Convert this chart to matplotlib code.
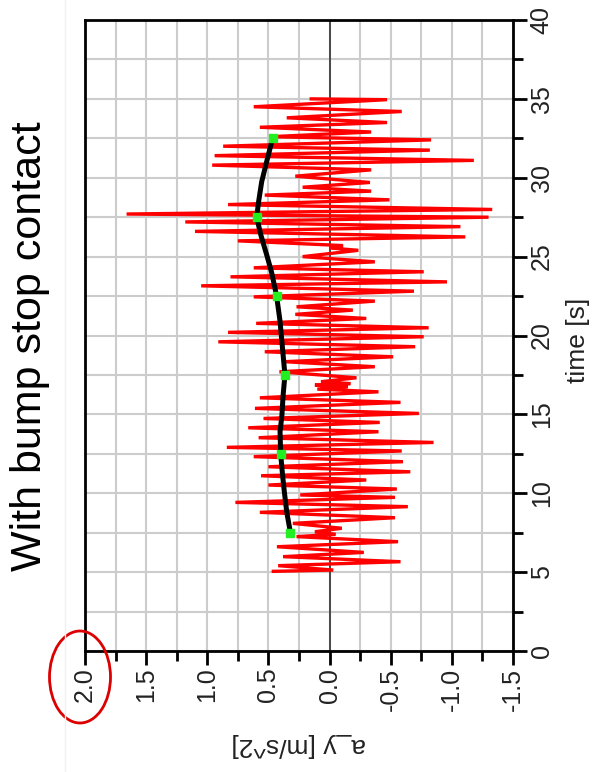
import matplotlib
matplotlib.use("Agg")
import matplotlib.pyplot as plt
from matplotlib.ticker import MultipleLocator, FormatStrFormatter
from matplotlib.patches import Ellipse
from matplotlib.lines import Line2D

plt.rcParams['font.family'] = ['Liberation Sans', 'DejaVu Sans']
plt.rcParams['axes.unicode_minus'] = False

# ---- data ----
sig_t = [5.05, 5.13, 5.41, 5.66, 5.98, 6.25, 6.61, 6.93, 7.25, 7.40, 7.56, 7.78,
         8.09, 8.45, 8.79, 9.15, 9.42, 9.74, 9.89, 10.27, 10.52, 10.84, 11.11,
         11.36, 11.68, 12.00, 12.32, 12.68, 12.91, 13.22, 13.52, 13.90, 14.15,
         14.49, 14.74, 15.06, 15.38, 15.76, 16.05, 16.43, 16.60, 16.75, 16.85,
         16.95, 17.07, 17.32, 17.70, 18.02, 18.34, 18.65, 18.97, 19.29, 19.60,
         19.92, 20.20, 20.49, 20.77, 21.08, 21.34, 21.61, 21.82, 22.18, 22.45,
         22.81, 23.15, 23.40, 23.72, 24.04, 24.29, 24.67, 25.00, 25.40, 25.55,
         25.70, 26.00, 26.25, 26.60, 26.90, 27.20, 27.50, 27.70, 27.99, 28.30,
         28.60, 28.90, 29.15, 29.40, 29.70, 30.10, 30.50, 30.80, 31.10, 31.40,
         31.75, 32.00, 32.40, 32.60, 32.90, 33.20, 33.50, 33.80, 34.20, 34.50,
         34.95, 35.00]
sig_a = [0.46, -0.03, 0.42, -0.58, 0.38, -0.28, 0.43, -0.56, 0.27, -0.05, 0.12, -0.10,
         0.30, -0.535, 0.57, -0.64, 0.77, -0.535, 0.24, -0.55, 0.50, -0.30, 0.56,
         -0.66, 0.50, -0.60, 0.62, -0.59, 0.84, -0.85, 0.58, -0.40, 0.665,
         -0.41, 0.54, -0.73, 0.61, -0.58, 0.57, -0.40, 0.10, -0.15, 0.12,
         -0.17, 0.07, -0.22, 0.41, -0.37, 0.37, -0.52, 0.53, -0.70, 0.91,
         -0.77, 0.83, -0.81, 0.60, -0.30, 0.28, -0.19, 0.27, -0.37, 0.62,
         -0.69, 1.05, -0.96, 0.81, -0.77, 0.62, -0.37, 0.22, -0.235, 0.00,
         -0.11, 0.75, -1.11, 1.10, -1.07, 1.18, -1.30, 1.66, -1.33, 0.83,
         -0.49, 0.53, -0.34, 0.22, -0.33, 0.28, -0.34, 0.96, -1.18, 0.94,
         -0.82, 0.87, -0.83, 0.49, -0.34, 0.57, -0.47, 0.35, -0.59, 0.62,
         -0.47, 0.15]

rms_t = [7.5, 8.8, 10.1, 11.2, 12.5, 13.9, 14.9, 16.2, 17.5, 19.2, 20.9, 22.5,
         24.0, 25.0, 26.4, 27.5, 28.5, 29.75, 31.0, 32.5]
rms_a = [0.32, 0.35, 0.37, 0.385, 0.40, 0.405, 0.39, 0.38, 0.365, 0.385, 0.405, 0.433,
         0.474, 0.51, 0.563, 0.596, 0.58, 0.555, 0.515, 0.466]

mark_t = [7.5, 12.5, 17.5, 22.5, 27.5, 32.5]
mark_a = [0.32, 0.40, 0.365, 0.433, 0.596, 0.466]

a_ticks = [2.0, 1.5, 1.0, 0.5, 0.0, -0.5, -1.0, -1.5]
t_ticks = [0, 5, 10, 15, 20, 25, 30, 35, 40]

title = "With bump stop contact"
a_label = "a_y [m/s^2]"
t_label = "time [s]"

# ---- figure ----
W, H = 594, 772
fig = plt.figure(figsize=(W / 100, H / 100), dpi=100)
fig.patch.set_facecolor('white')
ax = fig.add_axes([85 / W, 121 / H, 428 / W, 631 / H])

ax.set_xlim(2.0, -1.5)
ax.set_ylim(0, 40)

ax.xaxis.set_major_locator(MultipleLocator(0.5))
ax.xaxis.set_minor_locator(MultipleLocator(0.25))
ax.xaxis.set_major_formatter(FormatStrFormatter('%.1f'))
ax.yaxis.set_major_locator(MultipleLocator(5))
ax.yaxis.set_minor_locator(MultipleLocator(2.5))
ax.yaxis.tick_right()
ax.set_xticks(a_ticks)
ax.set_yticks(t_ticks)

ax.grid(True, which='both', color='#cccccc', lw=1.5, zorder=0)
ax.set_axisbelow(True)
ax.axvline(0, color='#333333', lw=1.2, zorder=1)

for s in ax.spines.values():
    s.set_linewidth(2.0)
    s.set_color('black')

ax.tick_params(axis='both', which='major', direction='out', length=10, width=2,
               labelsize=18, pad=2, color='black', labelcolor='#222222')
ax.tick_params(axis='both', which='minor', direction='out', length=7, width=2)
for lab in ax.get_xticklabels():
    lab.set_rotation(90)
    lab.set_va('top')
    lab.set_ha('center')
for lab in ax.get_yticklabels():
    lab.set_rotation(90)
    lab.set_va('center')
    lab.set_ha('left')

ax.plot(sig_a, sig_t, color='#ff0000', lw=2.4, zorder=3, solid_joinstyle='miter')
ax.plot(rms_a, rms_t, color='black', lw=3.6, zorder=4, solid_capstyle='round')
ax.plot(mark_a, mark_t, ls='none', marker='s', ms=6, color='#22ee22',
        markeredgecolor='#22ee22', zorder=5)

fig.text(30 / W, 1 - 346 / H, title, rotation=90, fontsize=31,
         ha='center', va='center')
fig.text(299 / W, 1 - 745 / H, a_label, rotation=180, fontsize=19,
         ha='center', va='center', color='#222222')
fig.text(578 / W, 1 - 340 / H, t_label, rotation=90, fontsize=19,
         ha='center', va='center', color='#222222')

fig.add_artist(Line2D([65 / W, 65 / W], [0, 1], transform=fig.transFigure,
                      color='#f0f0f0', lw=1))
fig.add_artist(Ellipse((80 / W, 1 - 677 / H), 61 / W, 92 / H,
                       transform=fig.transFigure, fill=False,
                       edgecolor='#dd0000', lw=2))

fig.savefig('out.png', dpi=100)
